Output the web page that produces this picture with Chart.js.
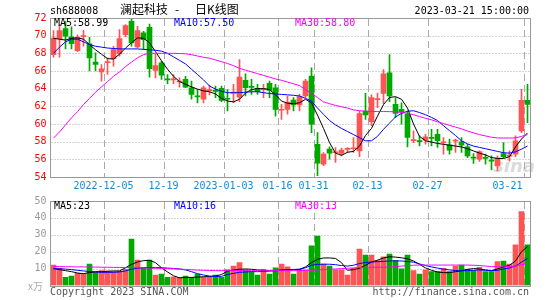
<!DOCTYPE html>
<html><head><meta charset="utf-8">
<script src="https://cdn.jsdelivr.net/npm/chart.js@4.4.0/dist/chart.umd.min.js"></script>
<style>
html,body{margin:0;padding:0;background:#fff;}
#wrap{position:relative;width:545px;height:300px;overflow:hidden;font-family:"DejaVu Sans Mono",monospace;font-size:10px;}
canvas{position:absolute;left:0;}
.t{position:absolute;white-space:pre;line-height:12px;}
.cjk{position:absolute;white-space:pre;font-family:"Noto Sans CJK SC",sans-serif;font-size:12px;line-height:14px;color:#000;}
</style></head><body>
<div id="wrap">
<div class="t" style="left:493px;top:156px;font:italic bold 18px 'DejaVu Sans',sans-serif;color:rgba(150,150,150,0.35);line-height:20px;">sina</div>
<canvas id="k" width="545" height="190" style="top:0"></canvas>
<canvas id="v" width="545" height="110" style="top:190px"></canvas>
<div class="t" style="left:50px;top:5px;color:#000">sh688008</div>
<div class="cjk" style="left:120px;top:2px">澜起科技</div>
<div class="cjk" style="left:175px;top:2px">-</div>
<div class="cjk" style="left:195px;top:2px">日K线图</div>
<div class="t" style="right:16px;top:5px;color:#000">2023-03-21 15:00:00</div>
<div class="t" id="m5" style="left:54px;top:17px;color:#000"></div>
<div class="t" id="m10" style="left:174px;top:17px;color:#00f"></div>
<div class="t" id="m30" style="left:295px;top:17px;color:#f0f"></div>
<div class="t" id="v5" style="left:54px;top:200px;color:#000"></div>
<div class="t" id="v10" style="left:174px;top:200px;color:#00f"></div>
<div class="t" id="v30" style="left:295px;top:200px;color:#f0f"></div>
<div class="t" style="left:50px;top:286px;color:#555">Copyright 2023 SINA.COM</div>
<div class="t" style="right:16px;top:286px;color:#555">http://finance.sina.com.cn</div>
<div class="cjk" style="left:28px;top:279px;font-size:10px;color:#aaa">x万</div>
</div>
<script>
const dates = ['2022-11-22','2022-11-23','2022-11-24','2022-11-25','2022-11-28','2022-11-29','2022-11-30','2022-12-01','2022-12-02',
'2022-12-05','2022-12-06','2022-12-07','2022-12-08','2022-12-09','2022-12-12','2022-12-13','2022-12-14','2022-12-15','2022-12-16',
'2022-12-19','2022-12-20','2022-12-21','2022-12-22','2022-12-23','2022-12-26','2022-12-27','2022-12-28','2022-12-29','2022-12-30',
'2023-01-03','2023-01-04','2023-01-05','2023-01-06','2023-01-09','2023-01-10','2023-01-11','2023-01-12','2023-01-13',
'2023-01-16','2023-01-17','2023-01-18','2023-01-19','2023-01-20','2023-01-30','2023-01-31',
'2023-02-01','2023-02-02','2023-02-03','2023-02-06','2023-02-07','2023-02-08','2023-02-09','2023-02-10',
'2023-02-13','2023-02-14','2023-02-15','2023-02-16','2023-02-17','2023-02-20','2023-02-21','2023-02-22','2023-02-23','2023-02-24',
'2023-02-27','2023-02-28','2023-03-01','2023-03-02','2023-03-03','2023-03-06','2023-03-07','2023-03-08','2023-03-09','2023-03-10',
'2023-03-13','2023-03-14','2023-03-15','2023-03-16','2023-03-17','2023-03-20','2023-03-21'];

const tickDates = ['2022-12-05','2022-12-19','2023-01-03','2023-01-16','2023-01-31','2023-02-13','2023-02-27','2023-03-21'];
const tickLabels = ['2022-12-05','12-19','2023-01-03','01-16','01-31','02-13','02-27','03-21'];
const priceTicks = [54,56,58,60,62,64,66,68,70,72];
const volTicks = [0,10,20,30,40,50];

const opens = [67.86,69.67,70.80,69.86,68.30,69.90,69.07,67.00,65.90,66.95,
67.41,67.94,70.12,71.62,68.73,70.31,70.95,66.06,66.92,65.08,
65.00,64.75,65.05,64.10,63.12,62.80,63.78,63.75,64.03,62.83,
63.50,63.05,64.93,64.20,64.03,63.90,64.60,64.10,61.56,61.66,
62.71,62.15,63.17,65.42,57.71,55.46,57.15,56.75,56.66,57.13,
57.20,56.96,61.47,60.27,62.76,63.47,65.80,62.23,61.66,61.10,
58.12,58.05,58.17,58.42,58.84,57.88,57.64,58.07,57.98,57.41,
56.18,56.02,56.17,55.85,55.27,56.66,56.37,56.59,59.22,62.68];
const highs = [70.57,71.25,71.62,71.00,70.10,70.60,69.80,68.05,66.74,67.50,
68.80,70.70,71.25,72.00,71.06,70.50,71.32,67.94,67.10,65.60,
65.60,65.23,65.40,64.86,63.90,64.30,64.40,64.30,64.30,63.90,
64.48,67.30,65.68,65.05,64.48,64.48,64.86,64.48,62.23,63.17,
62.98,63.35,65.05,66.36,59.03,56.77,57.41,57.34,57.26,57.34,
58.47,61.47,63.47,63.30,63.50,66.17,67.86,62.98,62.41,61.47,
59.22,58.65,58.84,59.40,59.40,58.47,58.28,58.28,58.47,57.71,
56.66,56.96,56.59,56.40,56.40,57.90,56.96,58.65,63.92,64.48];
const lows = [67.56,67.56,68.50,68.50,68.20,68.80,66.00,66.00,64.86,65.60,
66.55,67.68,69.90,68.80,68.62,68.43,65.30,65.23,65.05,64.56,
64.56,64.18,64.10,62.80,62.40,62.40,63.30,62.98,62.53,61.47,
62.41,62.53,63.17,63.35,63.35,62.98,62.98,60.90,60.53,61.10,
61.47,61.47,62.98,59.03,54.14,55.27,56.02,55.65,56.40,56.77,
56.77,56.29,60.53,59.80,61.85,62.30,62.53,60.72,59.97,57.41,
57.90,57.53,57.71,57.53,57.34,56.59,56.59,56.77,56.77,56.20,
55.53,55.76,55.46,54.80,54.70,56.13,55.80,56.29,59.03,60.16];
const closes = [69.74,70.57,69.93,69.10,69.80,70.00,67.49,66.74,66.25,67.00,
68.43,69.67,71.13,69.18,70.57,69.56,66.25,66.62,65.53,65.00,
65.05,64.80,64.18,63.35,63.07,64.10,63.82,63.70,62.68,62.80,
63.55,65.30,64.10,64.15,63.65,63.95,63.80,61.66,61.60,62.49,
62.15,63.10,64.86,59.97,55.57,56.59,56.70,56.80,57.04,57.17,
57.25,61.17,61.02,62.98,62.80,65.68,63.17,61.20,61.40,58.47,
58.17,58.00,58.54,58.38,58.10,57.92,57.04,58.10,57.60,56.40,
56.13,56.89,56.10,55.80,56.13,56.29,56.40,58.09,62.68,62.23];

const ma5 = [69.7,69.6,69.5,69.7,69.75,69.6,69.0,68.4,67.9,67.4,
67.35,67.9,68.6,69.2,69.75,69.7,69.2,68.2,67.15,66.2,
65.4,64.8,64.5,64.2,63.95,63.75,63.65,63.4,62.9,62.6,
62.5,62.8,63.5,63.9,64.0,64.0,63.9,63.3,62.6,62.35,
62.3,62.4,62.8,62.4,61.0,59.5,57.9,56.7,56.45,56.8,
56.9,57.5,58.7,59.5,60.9,62.2,63.0,63.1,62.8,61.8,
60.0,58.6,58.1,57.95,57.8,57.7,57.6,57.5,57.4,57.2,
56.95,56.7,56.5,56.2,56.1,56.1,56.3,57.4,58.3,58.99];
const ma10 = [68.0,68.7,69.3,69.6,69.6,69.3,69.0,68.8,68.7,68.6,
68.55,68.5,68.5,68.5,68.5,68.45,68.4,68.35,68.25,68.0,
67.6,67.2,66.8,66.2,65.6,65.0,64.3,63.95,63.7,63.54,
63.54,63.55,63.6,63.65,63.65,63.55,63.45,63.4,63.35,63.3,
63.25,63.17,62.9,62.6,61.8,61.1,60.4,59.9,59.5,59.15,
58.8,58.45,58.1,58.1,58.6,59.4,60.1,60.8,61.2,61.45,
61.5,61.3,61.05,60.75,60.4,59.8,59.25,58.7,58.1,57.75,
57.5,57.35,57.2,57.05,56.9,56.75,56.7,56.85,57.15,57.5];
const ma30 = [58.4,59.1,59.9,60.7,61.4,62.2,62.9,63.6,64.2,64.8,
65.4,65.9,66.5,67.0,67.5,67.85,68.0,68.0,68.0,68.0,
68.0,67.98,67.95,67.85,67.7,67.55,67.45,67.25,67.05,66.85,
66.6,66.3,66.1,65.9,65.7,65.5,65.3,65.1,64.95,64.75,
64.55,64.35,63.9,63.45,63.0,62.5,62.3,62.1,61.95,61.8,
61.6,61.5,61.45,61.42,61.41,61.41,61.4,61.38,61.3,61.2,
61.05,60.85,60.65,60.47,60.25,60.05,59.85,59.65,59.45,59.2,
59.0,58.8,58.65,58.5,58.42,58.41,58.41,58.42,58.6,58.8];

const vols = [12.1,10.2,4.8,5.6,7.2,6.8,12.7,8.2,8.8,8.6,
8.2,8.6,9.6,27.5,15.1,10.5,15.1,6.2,6.8,4.8,
5.2,4.8,5.6,4.8,6.8,4.8,4.8,6.2,4.8,9.2,
11.5,13.5,9.2,8.2,6.2,9.6,6.8,10.5,12.7,11.1,
6.8,9.6,9.2,23.4,29.3,12.7,11.5,9.2,9.2,6.2,
10.2,21.6,18.0,18.0,14.7,17.0,18.6,14.7,9.8,18.0,
8.8,6.8,9.2,8.2,8.2,10.2,8.2,11.5,12.1,9.6,
8.8,10.8,8.2,8.2,14.1,14.5,12.7,24.0,43.7,24.0];
const vma5 = [10.0,9.4,8.8,8.2,7.4,7.0,7.6,8.1,8.2,8.4,
8.6,8.6,10.5,12.5,13.9,14.7,14.9,13.5,10.5,8.0,
5.8,4.5,4.8,4.8,5.0,5.2,5.3,5.6,6.5,8.5,
9.2,9.6,9.8,9.6,9.2,9.0,8.8,8.8,9.0,9.2,
9.4,9.6,11.0,13.5,15.5,16.3,16.3,16.0,13.5,9.0,
9.4,10.2,12.0,13.8,15.0,16.3,17.0,16.8,16.4,15.8,
14.5,12.5,10.4,9.0,8.0,7.6,7.6,8.2,8.7,9.6,
10.0,9.8,9.2,8.8,9.8,11.0,12.0,14.5,20.0,23.0];
const vma10 = [10.0,9.9,9.7,9.4,9.0,8.6,8.3,8.0,7.8,7.8,
7.8,8.0,8.6,9.6,10.2,10.5,10.6,10.6,10.5,10.3,
10.1,9.8,9.2,8.2,7.0,6.2,5.6,5.3,5.4,6.5,
7.2,7.8,8.0,8.2,8.2,8.3,8.5,8.8,9.2,9.4,
9.5,9.6,10.5,12.0,12.5,12.6,12.6,12.3,11.8,11.5,
12.0,13.0,13.6,13.9,14.1,14.3,14.5,14.6,14.5,14.2,
13.8,12.8,11.8,11.0,10.3,9.7,9.2,8.9,8.7,8.8,
9.0,9.2,9.0,8.7,9.0,9.8,10.4,11.5,13.8,16.0];
const vma30 = [11.2,11.2,11.1,11.1,11.0,11.0,10.9,10.9,10.8,10.8,
10.7,10.7,10.6,10.6,10.5,10.4,10.3,10.2,10.1,10.0,
9.9,9.7,9.5,9.3,9.1,9.0,8.9,8.8,8.8,8.8,
8.8,8.8,8.8,8.8,8.8,8.8,8.8,8.8,8.8,8.8,
8.8,8.8,8.9,9.0,9.2,9.4,9.6,9.8,10.0,10.2,
10.4,10.6,10.8,10.8,10.8,10.8,10.9,11.2,11.5,11.8,
12.0,12.1,12.1,12.1,12.1,12.1,12.1,12.1,12.1,12.1,
12.0,11.8,11.5,11.2,11.1,11.1,11.2,11.5,12.3,13.0];

const RED = '#ff5454', GREEN = '#00a800';
const MONO = '"DejaVu Sans Mono", monospace';
const candleColors = opens.map((o, i) => closes[i] >= o ? RED : GREEN);
const gridIdx = tickDates.map(d => dates.indexOf(d));
const last = a => a[a.length - 1];

document.getElementById('m5').textContent = 'MA5:' + last(ma5).toFixed(2);
document.getElementById('m10').textContent = 'MA10:' + last(ma10).toFixed(2);
document.getElementById('m30').textContent = 'MA30:' + last(ma30).toFixed(2);
document.getElementById('v5').textContent = 'MA5:' + Math.round(last(vma5));
document.getElementById('v10').textContent = 'MA10:' + Math.round(last(vma10));
document.getElementById('v30').textContent = 'MA30:' + Math.round(last(vma30));

// grid lines drawn through the chart's own scales, with dotted/dashed styles
const gridLines = {
  id: 'gridLines',
  beforeDatasetsDraw(chart) {
    const {ctx, chartArea: a} = chart;
    const xs = chart.scales.x, ys = chart.scales.y;
    const slot = xs.getPixelForValue(1) - xs.getPixelForValue(0);
    ctx.save();
    ctx.lineWidth = 1;
    ctx.strokeStyle = '#aaa';
    ctx.setLineDash([1, 2]);
    ys.ticks.forEach(t => {
      if (t.value === ys.min || t.value === ys.max) return;
      const y = Math.round(ys.getPixelForValue(t.value)) + 0.5;
      ctx.beginPath(); ctx.moveTo(a.left + 1, y); ctx.lineTo(a.right, y); ctx.stroke();
    });
    ctx.setLineDash([7, 4]);
    gridIdx.forEach(i => {
      const x = Math.floor(xs.getPixelForValue(i) - slot / 2) + 0.5;
      ctx.beginPath(); ctx.moveTo(x, a.top + 1); ctx.lineTo(x, a.bottom); ctx.stroke();
    });
    ctx.restore();
  }
};
const frame = {
  id: 'frame',
  afterDraw(chart) {
    const {ctx, chartArea: a} = chart;
    ctx.save();
    ctx.strokeStyle = '#999';
    ctx.lineWidth = 1;
    ctx.strokeRect(a.left, Math.round(a.top) + 0.5, a.right - a.left, Math.round(a.bottom) - Math.round(a.top));
    ctx.restore();
  }
};
const dateLabels = {
  id: 'dateLabels',
  afterDraw(chart) {
    const {ctx, chartArea: a} = chart;
    const xs = chart.scales.x;
    const slot = xs.getPixelForValue(1) - xs.getPixelForValue(0);
    ctx.save();
    ctx.font = '10px ' + MONO;
    ctx.fillStyle = '#1a88d0';
    ctx.textAlign = 'center';
    ctx.textBaseline = 'middle';
    tickDates.forEach((d, k) => {
      const i = dates.indexOf(d);
      const w = ctx.measureText(tickLabels[k]).width;
      let x = xs.getPixelForValue(i) - slot / 2 - 1;
      x = Math.min(x, a.right - 8 - w / 2);
      ctx.fillText(tickLabels[k], x, 186.5);
    });
    ctx.restore();
  }
};

const xAxis = (h) => ({
  type: 'category',
  offset: true,
  grid: { display: false, drawTicks: false },
  border: { display: false },
  ticks: { display: false, autoSkip: false },
  afterFit: s => { s.height = h; }
});
const yAxis = (min, max, color, ends, cb) => ({
  min, max,
  afterBuildTicks: s => { s.ticks = ends.map(v => ({value: v})); },
  ticks: { color, padding: 4, font: { family: MONO, size: 10 }, callback: cb },
  grid: { display: false, drawTicks: false },
  border: { display: false },
  afterFit: s => { s.width = 50.5; }
});
const lineDs = (data, color) => ({ type: 'line', data, borderColor: color, borderWidth: 1, pointRadius: 0, tension: 0, fill: false, order: 0 });

new Chart(document.getElementById('k'), {
  type: 'bar',
  data: {
    labels: dates,
    datasets: [
      { data: lows.map((l, i) => [l, highs[i]]), backgroundColor: candleColors, barThickness: 1, grouped: false, order: 2 },
      { data: opens.map((o, i) => [Math.min(o, closes[i]), Math.max(o, closes[i])]), backgroundColor: candleColors, barThickness: 5, minBarLength: 1, grouped: false, order: 1 },
      lineDs(ma30, '#ff00ff'),
      lineDs(ma10, '#0000ff'),
      lineDs(ma5, '#000000')
    ]
  },
  options: {
    responsive: false, animation: false, events: [],
    layout: { padding: { top: 18, right: 14.5, left: 0, bottom: 0 } },
    plugins: { legend: { display: false }, tooltip: { enabled: false } },
    scales: {
      x: xAxis(13),
      y: yAxis(54, 72, '#f00', priceTicks)
    }
  },
  plugins: [gridLines, frame, dateLabels]
});

new Chart(document.getElementById('v'), {
  type: 'bar',
  data: {
    labels: dates,
    datasets: [
      { data: vols, backgroundColor: candleColors, barThickness: 5, grouped: false, order: 1 },
      lineDs(vma30, '#ff00ff'),
      lineDs(vma10, '#0000ff'),
      lineDs(vma5, '#000000')
    ]
  },
  options: {
    responsive: false, animation: false, events: [],
    layout: { padding: { top: 11, right: 14.5, left: 0, bottom: 0 } },
    plugins: { legend: { display: false }, tooltip: { enabled: false } },
    scales: {
      x: xAxis(14.5),
      y: yAxis(0, 50, '#999', volTicks, v => v === 0 ? '' : v)
    }
  },
  plugins: [gridLines, frame]
});
</script>
</body></html>
